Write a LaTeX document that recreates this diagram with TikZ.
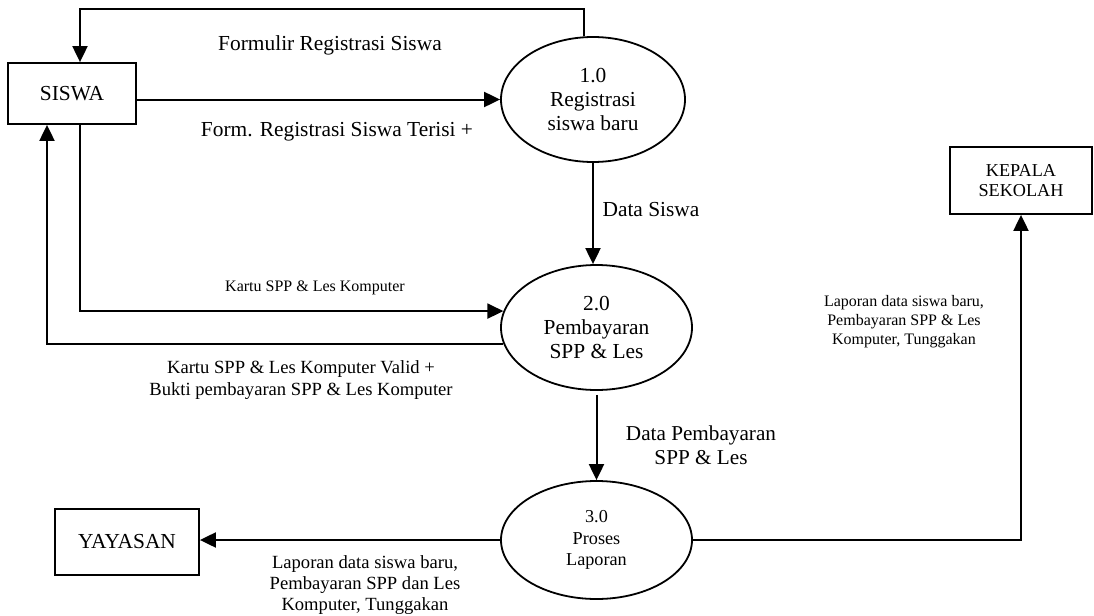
\documentclass[tikz,border=0pt]{standalone}
\usepackage{fontspec}
\setmainfont{Liberation Serif}
\usetikzlibrary{positioning}
\usetikzlibrary{arrows.meta}
\usetikzlibrary{shapes.geometric}

\begin{document}
\begin{tikzpicture}[x=0.5pt, y=-0.5pt]
\tikzstyle{ent} = [draw, line width=0.9pt, inner sep=0pt, align=center]
\tikzstyle{proc} = [draw, ellipse, line width=0.9pt, inner sep=0pt, align=center]
\tikzstyle{line} = [draw, line width=1pt, -{Triangle[length=8pt, width=7.5pt]}]
\tikzstyle{lbl} = [inner sep=0pt, align=center]
\tikzstyle{bigf} = [font=\fontsize{10.7}{12.2}\selectfont]
\tikzstyle{midf} = [font=\fontsize{9.3}{10.8}\selectfont]
\tikzstyle{smallf} = [font=\fontsize{8}{9.5}\selectfont]

\useasboundingbox (0,0) rectangle (1094,616);

\node [ent, bigf, minimum width=64pt, minimum height=30.5pt] (siswa) at (72,93.5) {SISWA};
\node [proc, bigf, minimum width=92pt, minimum height=62.5pt] (p1) at (593,99.5) {1.0\\Registrasi\\siswa baru};
\node [proc, bigf, minimum width=95.5pt, minimum height=62.5pt] (p2) at (596.5,327.5) {2.0\\Pembayaran\\SPP \& Les};
\node [proc, font=\fontsize{9.1}{10.7}\selectfont, minimum width=95.5pt, minimum height=59pt] (p3) at (596.5,540) {3.0\\Proses\\Laporan};
\node [ent, bigf, minimum width=72pt, minimum height=33pt] (yayasan) at (127,542) {YAYASAN};
\node [ent, font=\fontsize{9.1}{10}\selectfont, minimum width=71pt, minimum height=33.5pt] (kepala) at (1021,180.5) {KEPALA\\SEKOLAH};

\node [lbl, bigf] (formulir) at (330,45) {Formulir Registrasi Siswa};
\node [lbl, bigf] (terisi) at (337,132) {Form. Registrasi Siswa Terisi +};
\node [lbl, bigf] (datasiswa) at (651,210) {Data Siswa};
\node [lbl, smallf] (kartu) at (315,288) {Kartu SPP \& Les Komputer};
\node [lbl, midf, font=\fontsize{9.3}{11}\selectfont] (valid) at (301,380) {Kartu SPP \& Les Komputer Valid +\\Bukti pembayaran SPP \& Les Komputer};
\node [lbl, font=\fontsize{10.6}{12}\selectfont] (databayar) at (701,445) {Data Pembayaran\\SPP \& Les};
\node [lbl, font=\fontsize{9.3}{10.5}\selectfont] (lapyys) at (365,585) {Laporan data siswa baru,\\Pembayaran SPP dan Les\\Komputer, Tunggakan};
\node [lbl, font=\fontsize{8}{9.5}\selectfont] (lapkep) at (904,322) {Laporan data siswa baru,\\Pembayaran SPP \& Les\\Komputer, Tunggakan};

\path [line] ([xshift=-4.5pt]p1.north) -- ++(0,-27) -| ([xshift=4pt]siswa.north);
\path [line] (siswa.east |- p1.west) -- (p1.west);
\path [line] (p1.south) -- (p1.south |- p2.north);
\path [line] ([xshift=4pt]siswa.south) |- (p2.170);
\path [line] (p2.190) -| ([xshift=-12.5pt]siswa.south);
\path [line] ([yshift=-2pt]p2.south) -- (p3.north);
\path [line] (p3.west) -- (p3.west -| yayasan.east);
\path [line] (p3.east) -| (kepala.south);
\end{tikzpicture}
\end{document}
